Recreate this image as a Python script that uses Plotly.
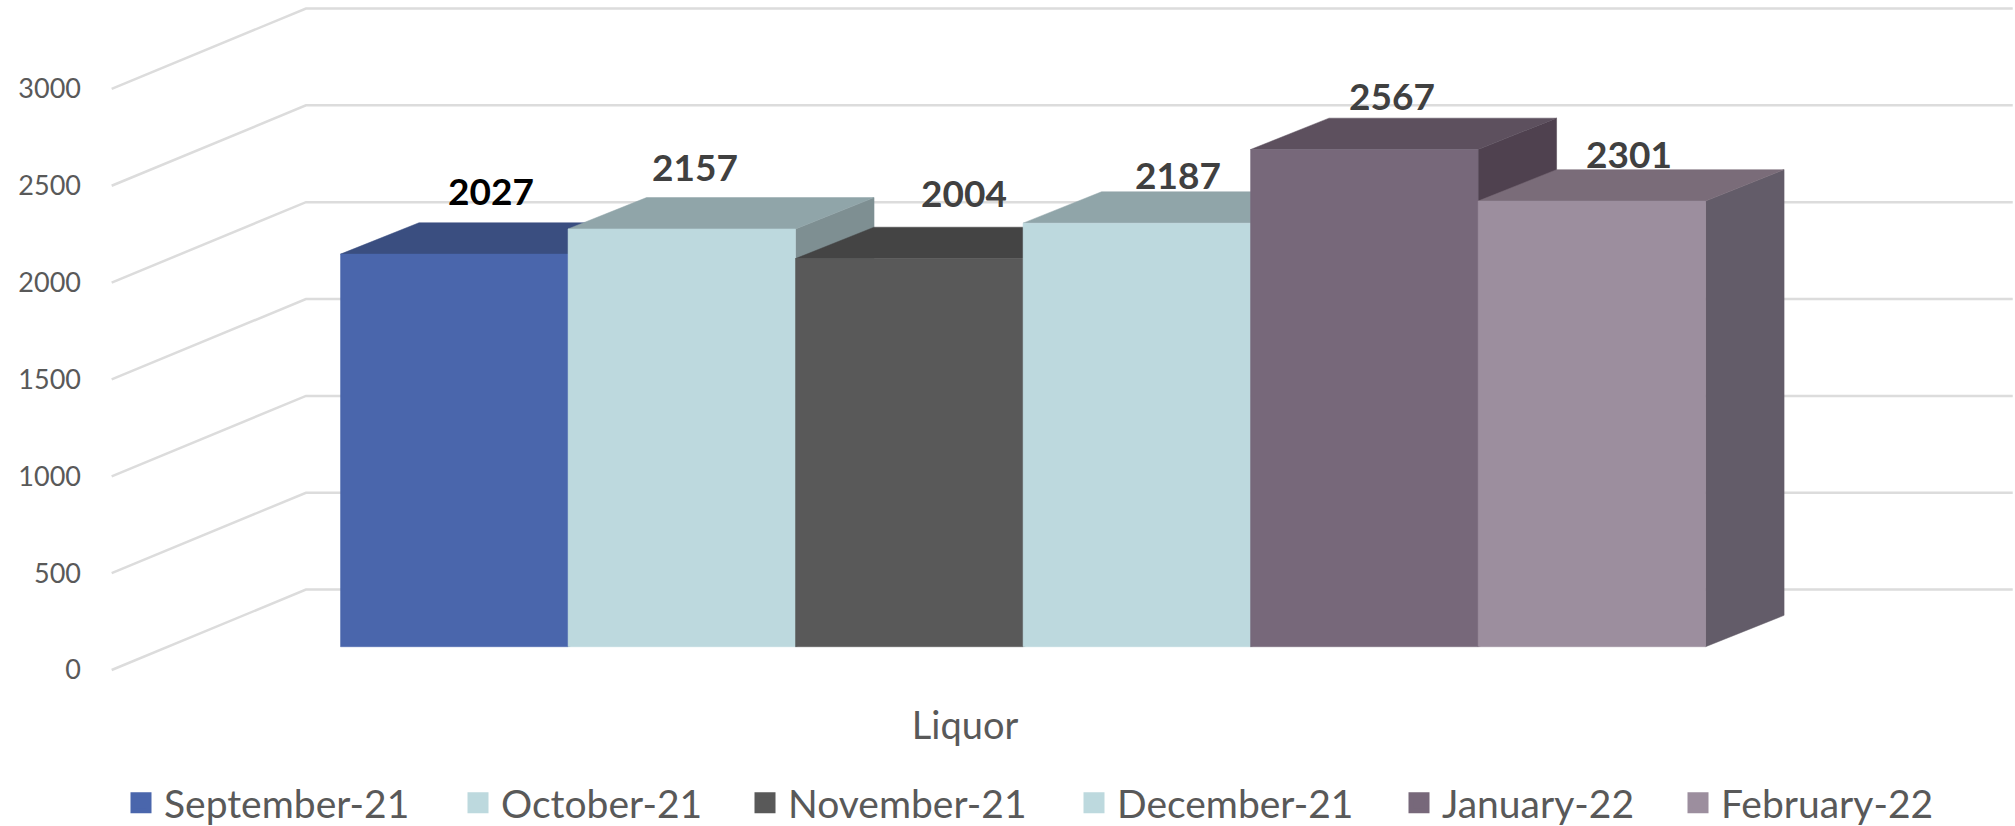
import plotly.graph_objects as go

# Data
category = "Liquor"
months = ["September-21", "October-21", "November-21", "December-21", "January-22", "February-22"]
values = [2027, 2157, 2004, 2187, 2567, 2301]
y_ticks = [0, 500, 1000, 1500, 2000, 2500, 3000]

# Styles
front_colors = ["#4A66AC", "#BDD9DE", "#595959", "#BDD9DE", "#77687A", "#9C8E9E"]
top_colors = ["#3A4E80", "#90A5A9", "#444444", "#90A5A9", "#5D505E", "#7A6C79"]
side_colors = ["#33456F", "#7E8F92", "#3B3B3B", "#7E8F92", "#4F414F", "#635C69"]
label_colors = ["#000000", "#404040", "#404040", "#404040", "#404040", "#404040"]
label_dx = [37, 13, 55, 41, 28, 37]
label_dy = [64, 62, 66, 49, 54, 48]
legend_x = [118, 455, 742, 1071, 1396, 1675]

# Pseudo-3D projection, in axis units
BAR_DX, BAR_DV = 0.345, 162
BAR_BASE = 120
WALL_X0, WALL_DX, WALL_DV, GRID_END = -1.006, 0.854, 415, 7.35
FONT = "Lato"

fig = go.Figure()

# Gridlines on the side wall and the back wall
gx, gy = [], []
for t in y_ticks:
    gx += [WALL_X0, WALL_X0 + WALL_DX, GRID_END, None]
    gy += [t, t + WALL_DV, t + WALL_DV, None]
fig.add_trace(go.Scatter(x=gx, y=gy, mode="lines", line=dict(color="#DCDCDC", width=2.5),
                         showlegend=False, hoverinfo="skip"))


def face(xs, ys, color):
    fig.add_trace(go.Scatter(x=xs + xs[:1], y=ys + ys[:1], mode="lines", fill="toself",
                             fillcolor=color, line=dict(color=color, width=0.5),
                             showlegend=False, hoverinfo="skip"))


for i, v in enumerate(values):
    top = BAR_BASE + v
    face([i + 1, i + 1 + BAR_DX, i + 1 + BAR_DX, i + 1],
         [BAR_BASE, BAR_BASE + BAR_DV, top + BAR_DV, top], side_colors[i])
    face([i, i + BAR_DX, i + 1 + BAR_DX, i + 1],
         [top, top + BAR_DV, top + BAR_DV, top], top_colors[i])
    face([i, i + 1, i + 1, i], [BAR_BASE, BAR_BASE, top, top], front_colors[i])

# Legend entries, one legend each so every entry sits where the reference has it
legends = {}
for i, m in enumerate(months):
    key = "legend" if i == 0 else f"legend{i + 1}"
    fig.add_trace(go.Scatter(x=[None], y=[None], mode="markers", name=m, legend=key,
                             marker=dict(symbol="square", size=16, color=front_colors[i],
                                         line=dict(color=front_colors[i], width=5))))
    legends[key] = dict(xref="container", yref="container", x=legend_x[i] / 2015,
                        y=1 - 803 / 826, xanchor="left", yanchor="middle",
                        itemwidth=36, bgcolor="rgba(0,0,0,0)",
                        font=dict(family=FONT, size=39, color="#595959"))

annotations = [
    dict(x=i + 0.5, y=BAR_BASE + v, xref="x", yref="y", text=f"<b>{v}</b>", showarrow=False,
         xshift=label_dx[i], yshift=label_dy[i],
         font=dict(family=FONT, size=37, color=label_colors[i]))
    for i, v in enumerate(values)
]

fig.update_layout(
    width=2015, height=826, autosize=False,
    margin=dict(l=88, r=0, t=0, b=126, autoexpand=False),
    paper_bgcolor="white", plot_bgcolor="white",
    showlegend=True, annotations=annotations,
    xaxis=dict(range=[-1.11, 7.36], showgrid=False, zeroline=False, showline=False, ticks="",
               tickmode="array", tickvals=[2.745], ticktext=[category],
               tickfont=dict(family=FONT, size=38, color="#595959"), ticklabelstandoff=0),
    yaxis=dict(range=[-155, 3459], showgrid=False, zeroline=False, showline=False, ticks="",
               tickmode="array", tickvals=y_ticks, ticktext=[str(t) for t in y_ticks],
               tickfont=dict(family=FONT, size=27, color="#595959"), ticklabelstandoff=6),
    **legends,
)

fig.write_html("out.html", config={"displayModeBar": False},
               post_script="document.body.style.margin='0';document.body.style.overflow='hidden';")
